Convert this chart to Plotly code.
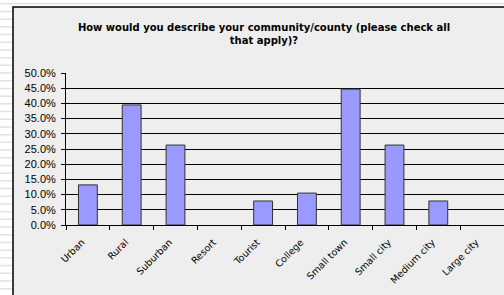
import plotly.graph_objects as go

categories = ["Urban", "Rural", "Suburban", "Resort", "Tourist", "College",
              "Small town", "Small city", "Medium city", "Large city"]
values = [13.2, 39.5, 26.3, 0.0, 7.9, 10.5, 44.7, 26.3, 7.9, 0.0]
y_ticks = [0, 5, 10, 15, 20, 25, 30, 35, 40, 45, 50]
y_labels = [f"{v:.1f}%" for v in y_ticks]
title_text = "How would you describe your community/county (please check all<br>that apply)?"

W, H = 504, 295
L, R, T, B = 66, 0, 73, 70
pw, ph = W - L - R, H - T - B

def px_x(x):
    return (x - L) / pw

def px_y(y):
    return (H - B - y) / ph

fig = go.Figure()
fig.add_trace(go.Bar(
    x=categories, y=values,
    marker=dict(color="#9999ff",
                line=dict(color="#333333", width=[0 if v == 0 else 1 for v in values])),
    width=0.43,
    hoverinfo="x+y",
))

shapes = []
# striped slide background
y = 3.0
while y < H:
    shapes.append(dict(type="rect", xref="paper", yref="paper", layer="below",
                       x0=px_x(0), x1=px_x(W), y0=px_y(y + 1.5), y1=px_y(y),
                       fillcolor="#e2e2e2", line=dict(width=0)))
    y += 7.7
# chart frame
shapes.append(dict(type="rect", xref="paper", yref="paper", layer="below",
                   x0=px_x(13), x1=px_x(W + 20), y0=px_y(H + 20), y1=px_y(7),
                   fillcolor="#eeeeee", line=dict(color="black", width=1.5)))

fig.update_layout(
    width=W, height=H,
    margin=dict(l=L, r=R, t=T, b=B),
    paper_bgcolor="white",
    plot_bgcolor="rgba(0,0,0,0)",
    showlegend=False,
    shapes=shapes,
    title=dict(text=title_text, x=264 / W, xanchor="center", xref="container",
               y=1 - 31 / H, yanchor="top", yref="container",
               font=dict(family="DejaVu Sans", size=10, color="black", weight="bold")),
)
fig.update_xaxes(
    type="category", tickangle=-45, tickson="boundaries",
    ticks="outside", ticklen=4, tickcolor="black",
    showline=True, linecolor="black", linewidth=1,
    showgrid=False, automargin=False,
    ticklabelstandoff=7, ticklabelshift=-6,
    tickfont=dict(family="DejaVu Sans", size=9.5, color="black"),
    range=[-0.5, 9.5],
)
fig.update_yaxes(
    range=[0, 50], tickvals=y_ticks, ticktext=y_labels,
    ticks="outside", ticklen=4, tickcolor="black",
    showline=True, linecolor="black", linewidth=1,
    showgrid=True, gridcolor="black", gridwidth=1,
    zeroline=False, automargin=False, ticklabelstandoff=3,
    tickfont=dict(family="Liberation Sans", size=11, color="black"),
)
fig.write_html("out.html", config={"displayModeBar": False},
               post_script="document.body.style.margin='0';document.body.style.overflow='hidden';")
